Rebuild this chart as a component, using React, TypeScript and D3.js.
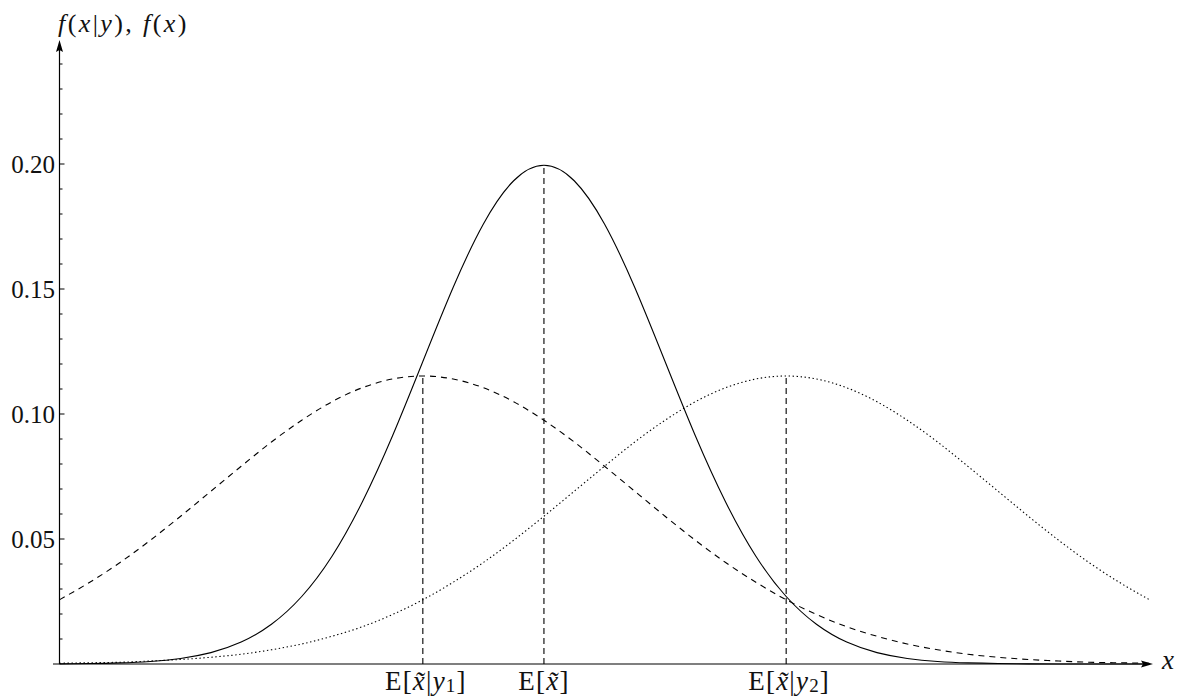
import React from "react";
import * as d3 from "d3";

// sample positions (x) and read-off density values
const xs: number[] = [
  -8, -7.5, -7, -6.5, -6, -5.5, -5, -4.5, -4, -3.5, -3, -2.5, -2, -1.5, -1, -0.5,
  0, 0.5, 1, 1.5, 2, 2.5, 3, 3.5, 4, 4.5, 5, 5.5, 6, 6.5, 7, 7.5, 8, 8.5, 9, 9.5, 10,
];
const priorF: number[] = [
  0.00007, 0.00018, 0.00044, 0.00101, 0.00222, 0.00455, 0.00876, 0.0159, 0.027, 0.0431,
  0.0648, 0.0913, 0.121, 0.1506, 0.176, 0.1933, 0.1995, 0.1933, 0.176, 0.1506, 0.121,
  0.0913, 0.0648, 0.0431, 0.027, 0.0159, 0.00876, 0.00455, 0.00222, 0.00101, 0.00044,
  0.00018, 0.00007, 0.00002, 0.00001, 0, 0,
];
const postY1: number[] = [
  0.0257, 0.0327, 0.0406, 0.0495, 0.0591, 0.0691, 0.0791, 0.0888, 0.0975, 0.1049, 0.1105,
  0.114, 0.1152, 0.114, 0.1105, 0.1049, 0.0975, 0.0888, 0.0791, 0.0691, 0.0591, 0.0495,
  0.0406, 0.0327, 0.0257, 0.0198, 0.0149, 0.0111, 0.008, 0.0057, 0.0039, 0.0027, 0.0018,
  0.0012, 0.0007, 0.0005, 0.0003,
];
const postY2: number[] = [
  0.0003, 0.0005, 0.0007, 0.0012, 0.0018, 0.0027, 0.0039, 0.0057, 0.008, 0.0111, 0.0149,
  0.0198, 0.0257, 0.0327, 0.0406, 0.0495, 0.0591, 0.0691, 0.0791, 0.0888, 0.0975, 0.1049,
  0.1105, 0.114, 0.1152, 0.114, 0.1105, 0.1049, 0.0975, 0.0888, 0.0791, 0.0691, 0.0591,
  0.0495, 0.0406, 0.0327, 0.0257,
];
// reference lines: position and height
const markX: number[] = [-2, 0, 4];
const markTop: number[] = [0.1152, 0.1995, 0.1152];
const yMajor: number[] = [0.05, 0.1, 0.15, 0.2];
const yMajorLabels: string[] = ["0.05", "0.10", "0.15", "0.20"];
const yMinor: number[] = [
  0.01, 0.02, 0.03, 0.04, 0.06, 0.07, 0.08, 0.09, 0.11, 0.12, 0.13, 0.14, 0.16, 0.17,
  0.18, 0.19, 0.21, 0.22, 0.23, 0.24,
];

const W = 1186;
const H = 698;
const FONT = "'Liberation Serif', 'DejaVu Serif', serif";

export default function App() {
  const x = d3.scaleLinear().domain([-8, 10]).range([59.5, 1149.5]);
  const y = d3.scaleLinear().domain([0, 0.2]).range([664, 164]);
  const line = (vals: number[]) =>
    d3
      .line<number>()
      .x((_, i) => x(xs[i]))
      .y((v) => y(v))
      .curve(d3.curveNatural)(vals) || "";

  const x0 = x(-8);
  const yb = y(0);
  const fs = 25;
  const lfs = 27;
  const sub = 19;
  const lblY = 690;

  return (
    <svg
      width={W}
      height={H}
      style={{ position: "absolute", left: 0, top: 0, background: "#fff" }}
    >
      <rect width={W} height={H} fill="#fff" />
      {/* curves */}
      <path d={line(priorF)} fill="none" stroke="#000" strokeWidth={1.1} />
      <path d={line(postY1)} fill="none" stroke="#000" strokeWidth={1.1} strokeDasharray="6,5" />
      <path d={line(postY2)} fill="none" stroke="#000" strokeWidth={1.1} strokeDasharray="1.4,2.6" />
      {/* vertical markers */}
      {markX.map((m, i) => (
        <line
          key={i}
          x1={x(m)}
          x2={x(m)}
          y1={yb}
          y2={y(markTop[i])}
          stroke="#000"
          strokeWidth={1.1}
          strokeDasharray="6,4"
        />
      ))}
      {/* axes */}
      <line x1={53} x2={1146} y1={yb} y2={yb} stroke="#000" strokeWidth={1.2} />
      <path d={`M1153,${yb} L1141,${yb - 3.5} L1143,${yb} L1141,${yb + 3.5} Z`} fill="#000" />
      <line x1={x0} x2={x0} y1={yb} y2={48} stroke="#000" strokeWidth={1.2} />
      <path d={`M${x0},40 L${x0 - 3.5},52 L${x0},50 L${x0 + 3.5},52 Z`} fill="#000" />
      {yMinor.map((v) => (
        <line key={v} x1={x0} x2={x0 + 3} y1={y(v)} y2={y(v)} stroke="#000" strokeWidth={1} />
      ))}
      {yMajor.map((v, i) => (
        <g key={v}>
          <line x1={x0} x2={x0 + 5} y1={y(v)} y2={y(v)} stroke="#000" strokeWidth={1} />
          <text
            x={55}
            y={y(v)}
            dy="0.34em"
            textAnchor="end"
            fontFamily={FONT}
            fontSize={fs}
            fill="#111"
          >
            {yMajorLabels[i]}
          </text>
        </g>
      ))}
      {/* axis labels */}
      <text x={58} y={32} fontFamily={FONT} fontSize={26} fill="#111" letterSpacing={2.4}>
        <tspan fontStyle="italic">f</tspan>(<tspan fontStyle="italic">x</tspan>|
        <tspan fontStyle="italic">y</tspan>), <tspan fontStyle="italic">f</tspan>(
        <tspan fontStyle="italic">x</tspan>)
      </text>
      <text x={1162} y={yb + 5} fontFamily={FONT} fontSize={lfs} fontStyle="italic" fill="#111">
        x
      </text>
      {/* marker labels */}
      <text
        x={x(-2) + 3}
        y={lblY}
        textAnchor="middle"
        fontFamily={FONT}
        fontSize={lfs}
        fill="#111"
        letterSpacing={1.2}
      >
        E[<tspan fontStyle="italic">{"x\u0303"}</tspan>|<tspan fontStyle="italic">y</tspan>
        <tspan fontSize={sub} dy={2}>1</tspan>
        <tspan dy={-2}>]</tspan>
      </text>
      <text
        x={x(0)}
        y={lblY}
        textAnchor="middle"
        fontFamily={FONT}
        fontSize={lfs}
        fill="#111"
        letterSpacing={1.2}
      >
        E[<tspan fontStyle="italic">{"x\u0303"}</tspan>]
      </text>
      <text
        x={x(4) + 3}
        y={lblY}
        textAnchor="middle"
        fontFamily={FONT}
        fontSize={lfs}
        fill="#111"
        letterSpacing={1.2}
      >
        E[<tspan fontStyle="italic">{"x\u0303"}</tspan>|<tspan fontStyle="italic">y</tspan>
        <tspan fontSize={sub} dy={2}>2</tspan>
        <tspan dy={-2}>]</tspan>
      </text>
    </svg>
  );
}
